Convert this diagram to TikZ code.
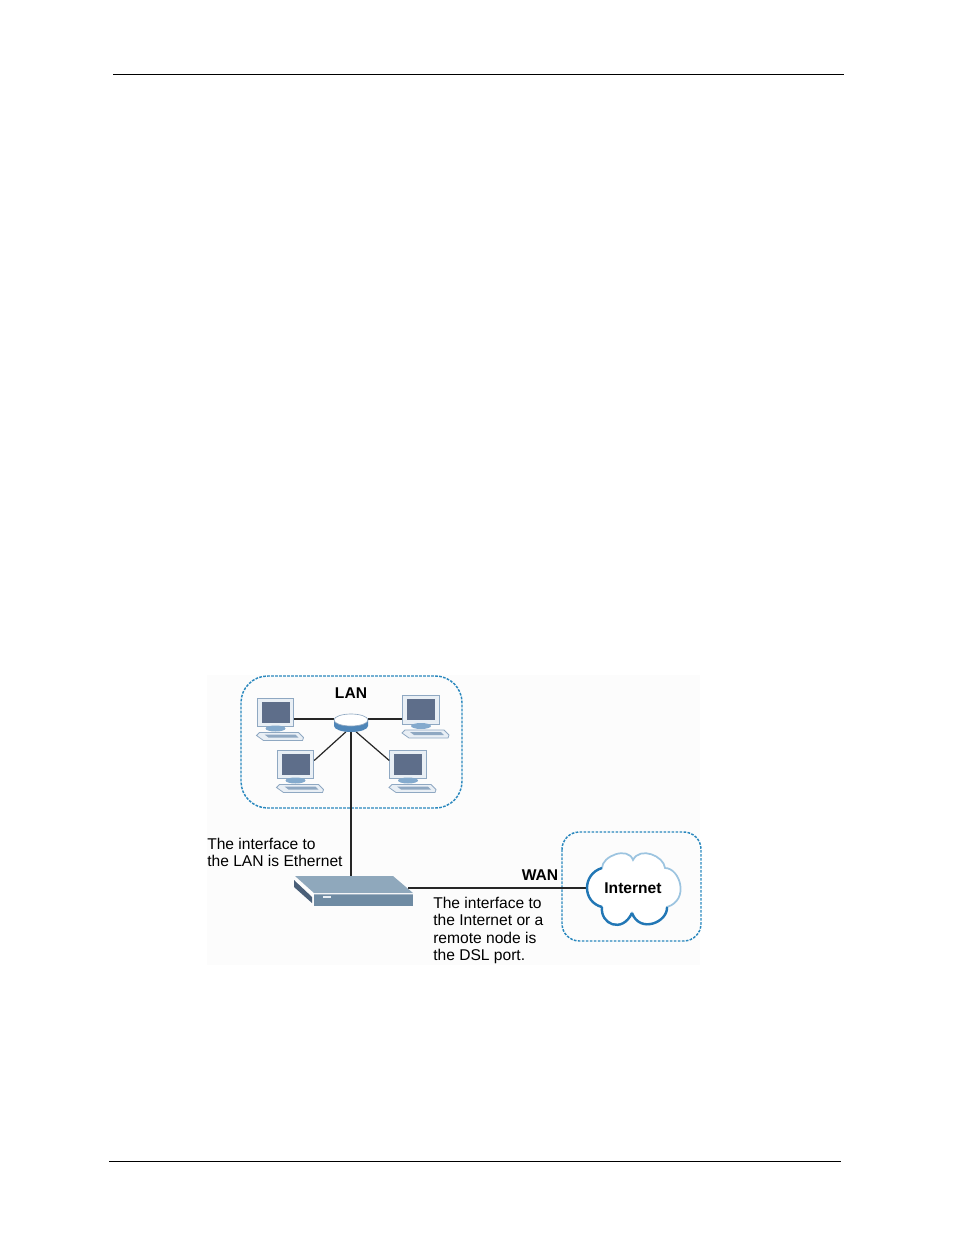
\documentclass[tikz,border=0pt]{standalone}
\usepackage{xcolor}
\usepackage{fontspec}
\setmainfont{Liberation Sans}
\definecolor{cDash}{HTML}{2A88BE}
\definecolor{cFrame}{HTML}{E9EFF5}
\definecolor{cEdge}{HTML}{8FA8C2}
\definecolor{cScreen}{HTML}{5E6E8A}
\definecolor{cHub}{HTML}{4F86B8}
\definecolor{cTop}{HTML}{8FA8BC}
\definecolor{cFront}{HTML}{6F8BA3}
\definecolor{cSide}{HTML}{4A5F78}
\definecolor{cCloudL}{HTML}{9CC4E0}
\definecolor{cCloudD}{HTML}{2277B5}
\definecolor{cPaper}{HTML}{FCFCFC}
\usetikzlibrary{positioning,shapes.geometric,calc}
\tikzset{
  node-label/.style={align=left,anchor=north west,inner sep=0pt,
    font=\fontsize{11.7pt}{13pt}\selectfont},
  node-title/.style={inner sep=0pt,font=\fontsize{11.7pt}{13pt}\selectfont\bfseries},
  node-monitor/.style={draw=cEdge,fill=cFrame,line width=.6pt,minimum width=27.5pt,
    minimum height=21.5pt,inner sep=0pt},
  node-hub/.style={ellipse,minimum width=25.5pt,minimum height=13.5pt,inner sep=0pt},
  node-switch/.style={minimum width=70.5pt,minimum height=22.5pt,inner sep=0pt},
  zone/.style={draw=cDash,dash pattern=on 2pt off 1pt,line width=1.1pt},
  wire/.style={draw=black!85,line width=.9pt},
  rule/.style={draw=black,line width=.5pt},
}
\begin{document}
\begin{tikzpicture}[x=.75pt,y=-.75pt]
  \useasboundingbox (0,0) rectangle (954,1235);
  \draw[rule] (113,74) -- (844,74);
  \draw[rule] (109,1161) -- (841,1161);
  \fill[cPaper] (207,675) rectangle (700,965);
  \draw[zone,rounded corners=20pt] (241,676) rectangle (462,808);
  \draw[zone,rounded corners=13pt] (562,832) rectangle (701,941);
  % nodes first, the wires go under the shapes
  \node[node-hub] (hub) at (351,723) {};
  \node[node-switch] (switch) at (361,891) {};
  \coordinate (cloudW) at (588,888);
  \foreach \name/\x/\y in {pcA/275.5/712.5, pcB/421/710, pcC/295.5/764.5, pcD/408/764.5} {
    \node[node-monitor] (\name) at (\x,\y) {};
    \fill[cScreen] (\x-14,\y-11) rectangle (\x+14,\y+10);
    \fill[cHub!70] (\x,\y+16) ellipse (10 and 3);
    \draw[cEdge,fill=cFrame,line width=.6pt] (\x-16,\y+20) -- (\x+23,\y+20) -- (\x+28,\y+25)
      -- (\x+27,\y+28) -- (\x-12,\y+28) -- (\x-19,\y+23) -- cycle;
    \fill[cEdge] (\x-11,\y+22) -- (\x+20,\y+22) -- (\x+23,\y+25) -- (\x-7,\y+25) -- cycle;
  }
  \draw[wire] (pcA.east |- 0,719) -- (hub.west |- 0,719);
  \draw[wire] (pcB.west |- 0,719) -- (hub.east |- 0,719);
  \draw[wire] (pcC.east) ++(0,-4) -- (hub.240);
  \draw[wire] (pcD.west) ++(0,-4) -- (hub.300);
  \draw[wire] (hub.south) -- (hub.south |- switch.north);
  \draw[wire] (switch.east |- cloudW) -- (cloudW);
  % hub
  \fill[cHub] (334,720) -- (334,726) arc[start angle=180,end angle=0,x radius=17,y radius=6]
    -- (368,720) -- cycle;
  \draw[cEdge,fill=white,line width=.5pt] (351,720) ellipse (17 and 6);
  % switch
  \fill[cTop] (295,876) -- (393,876) -- (413,893) -- (314,893) -- cycle;
  \fill[cFront] (314,894) rectangle (413,906);
  \fill[cSide] (294,880) -- (312,897) -- (312,903) -- (294,887) -- cycle;
  \draw[white,line width=.7pt] (296,881) -- (313,894) -- (413,894);
  \fill[cFrame] (323,896) rectangle (331,897.5);
  % cloud
  \path[draw=cCloudL,fill=white,line width=1.3pt] (602,868)
    .. controls (602,856) and (628,846) .. (633,860)
    .. controls (640,846) and (664,856) .. (665,868)
    .. controls (680,868) and (690,900) .. (667,907)
    .. controls (668,922) and (640,934) .. (632,913)
    .. controls (622,934) and (600,924) .. (602,907)
    .. controls (582,902) and (582,874) .. (602,868);
  \draw[cCloudD,line width=1.8pt] (602,907)
    .. controls (582,902) and (582,874) .. (602,868);
  \draw[cCloudD,line width=1.8pt] (632,913)
    .. controls (622,934) and (600,924) .. (602,907);
  \draw[cCloudD,line width=1.8pt] (667,907)
    .. controls (668,922) and (640,934) .. (632,913);
  % texts
  \node[node-title] (lanTitle) at (351,693) {LAN};
  \node[node-title] (wanTitle) at (540,875) {WAN};
  \node[node-title] (cloud) at (633,888) {Internet};
  \node[node-label] (lanText) at (207,838) {The interface to\\the LAN is Ethernet};
  \node[node-label] (wanText) at (433,897) {The interface to\\the Internet or a\\remote node is\\the DSL port.};
\end{tikzpicture}
\end{document}
